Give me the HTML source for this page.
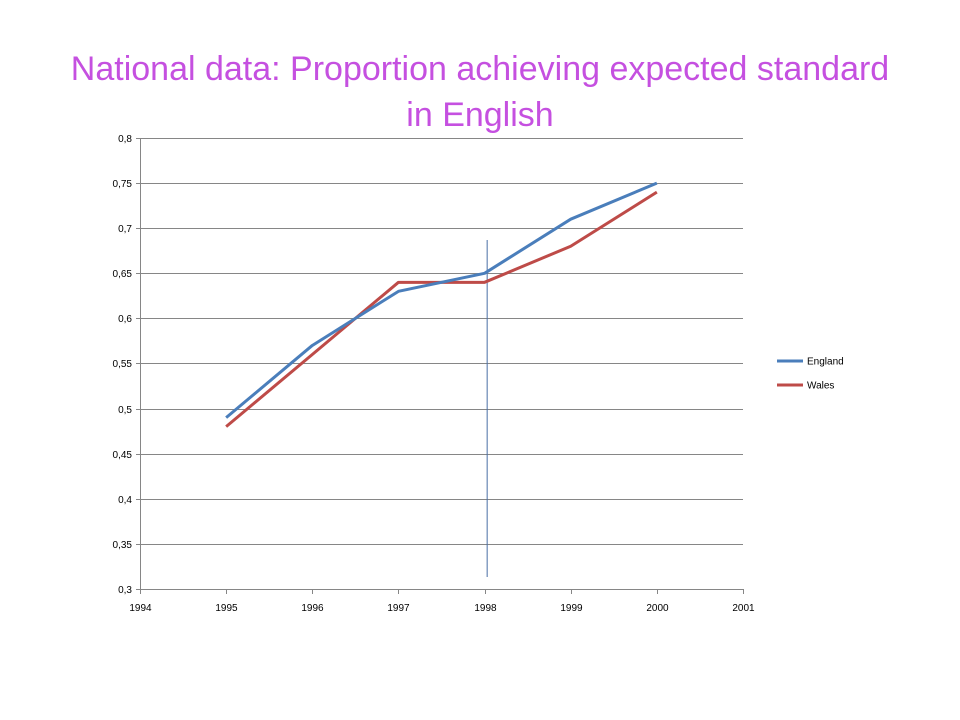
<!DOCTYPE html>
<html><head><meta charset="utf-8"><style>
body{margin:0;background:#fff;}
#title{position:absolute;left:0;top:46px;width:960px;text-align:center;font-family:"Liberation Sans",sans-serif;font-size:34px;line-height:46px;color:#c550e0;}
svg{position:absolute;left:0;top:0;}
text{font-family:"Liberation Sans",sans-serif;font-size:10px;fill:#000;}
</style></head><body>
<div id="title">National data: Proportion achieving expected standard<br>in English</div>
<svg id="chart" width="960" height="720"></svg>
<script>
const years=[1995,1996,1997,1998,1999,2000];
const england=[0.49,0.57,0.63,0.65,0.71,0.75];
const wales=[0.48,0.56,0.64,0.64,0.68,0.74];
const yTicks=["0,3","0,35","0,4","0,45","0,5","0,55","0,6","0,65","0,7","0,75","0,8"];
const xTicks=[1994,1995,1996,1997,1998,1999,2000,2001];
const markerYear=1998.03;
const NS="http://www.w3.org/2000/svg";
const svg=document.getElementById('chart');
const X0=140,X1=743,Y0=589,Y1=138;
const x=v=>X0+(v-1994)/(2001-1994)*(X1-X0);
const y=v=>Y0-(v-0.3)/(0.8-0.3)*(Y0-Y1);
function mk(t,a){const e=document.createElementNS(NS,t);for(const k in a)e.setAttribute(k,a[k]);svg.appendChild(e);return e;}
yTicks.forEach(s=>{const v=parseFloat(s.replace(',','.'));const yy=Math.round(y(v))+0.5;
 const g=mk('line',{x1:X0-4,x2:X1,y1:yy,y2:yy,stroke:'#868686','stroke-width':1});
 
 
 const t=mk('text',{x:X0-8,y:yy+3.5,'text-anchor':'end'});t.textContent=s;
 
 });
mk('line',{x1:X0+0.5,x2:X0+0.5,y1:Y1,y2:Y0,stroke:'#868686'});
xTicks.forEach(v=>{const xx=Math.round(x(v))+0.5;
 mk('line',{x1:xx,x2:xx,y1:Y0,y2:Y0+5,stroke:'#868686'});
 const t=mk('text',{x:xx,y:Y0+22,'text-anchor':'middle'});t.textContent=v;
 
 });
const vl=mk('line',{x1:x(markerYear),x2:x(markerYear),y1:240,y2:577,stroke:'#4a6fa5','stroke-width':1});


function series(d,c,n){const p=mk('polyline',{points:d.map((v,i)=>x(years[i])+','+y(v)).join(' '),fill:'none',stroke:c,'stroke-width':3,'stroke-linejoin':'round'});
 
 }
series(wales,'#be4b48','wales-line');
series(england,'#4a7ebb','england-line');
[['England','#4a7ebb',361],['Wales','#be4b48',385]].forEach(([n,c,yy])=>{
 const l=mk('line',{x1:777,x2:803,y1:yy,y2:yy,stroke:c,'stroke-width':3});
 
 
 const t=mk('text',{x:807,y:yy+3.5});t.textContent=n;
 
 });
</script>
</body></html>
